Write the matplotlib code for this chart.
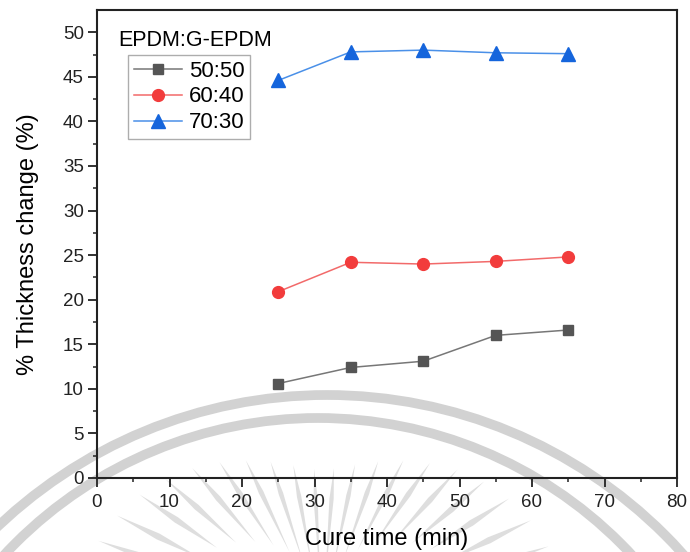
import numpy as np
import matplotlib
matplotlib.use("Agg")
import matplotlib.pyplot as plt
from matplotlib.patches import Arc, Polygon

plt.rcParams['font.family'] = ['Liberation Sans', 'DejaVu Sans']

# data
cure_time = [25, 35, 45, 55, 65]
ratio_50_50 = [10.6, 12.4, 13.1, 16.0, 16.6]
ratio_60_40 = [20.9, 24.2, 24.0, 24.3, 24.8]
ratio_70_30 = [44.6, 47.8, 48.0, 47.7, 47.6]
labels = ["50:50", "60:40", "70:30"]

fig = plt.figure(figsize=(6.9, 5.52), dpi=100)

# faint watermark layer behind the plot (pixel coordinates)
wm = fig.add_axes([0, 0, 1, 1], zorder=0)
wm.set_xlim(0, 690)
wm.set_ylim(552, 0)
wm.axis('off')
wm_col = '#d2d2d2'
wm.add_patch(Arc((327, 873), 2 * 478, 2 * 478, theta1=180, theta2=360,
                 color=wm_col, lw=7))
wm.add_patch(Arc((318, 846), 2 * 428, 2 * 428, theta1=180, theta2=360,
                 color=wm_col, lw=7))
# sunburst rays
cx, cy = 322, 620
for ang in np.arange(192, 350, 7.5):
    t = np.deg2rad(ang)
    side = abs(np.cos(t))
    r_out = 150 + 95 * side ** 1.5
    r_in = r_out - 90 - 20 * (1 - side)
    w = np.deg2rad(1.0)
    pts = [(cx + r_in * np.cos(t), cy + r_in * np.sin(t)),
           (cx + r_out * 0.8 * np.cos(t - w), cy + r_out * 0.8 * np.sin(t - w)),
           (cx + r_out * np.cos(t), cy + r_out * np.sin(t)),
           (cx + r_out * 0.8 * np.cos(t + w), cy + r_out * 0.8 * np.sin(t + w))]
    wm.add_patch(Polygon(pts, closed=True, color='#dedede', lw=0))

ax = fig.add_axes([97 / 690, 1 - 478 / 552, 580 / 690, 468 / 552], zorder=1)
ax.patch.set_alpha(0)

ax.plot(cure_time, ratio_50_50, color='#777777', lw=1.1, marker='s', ms=7.5,
        mfc='#555555', mec='#555555', label=labels[0])
ax.plot(cure_time, ratio_60_40, color='#f26a6a', lw=1.1, marker='o', ms=8.5,
        mfc='#f23c3c', mec='#f23c3c', label=labels[1])
ax.plot(cure_time, ratio_70_30, color='#4a90e8', lw=1.1, marker='^', ms=9.5,
        mfc='#1565dc', mec='#1565dc', label=labels[2])

ax.set_xlim(0, 80)
ax.set_ylim(0, 52.5)
ax.set_xticks(np.arange(0, 81, 10))
ax.set_xticks(np.arange(0, 81, 5), minor=True)
ax.set_yticks(np.arange(0, 51, 5))
ax.set_yticks(np.arange(0, 52, 2.5), minor=True)
ax.tick_params(which='major', direction='out', length=6.5, width=1.3,
               labelsize=13.5, colors='#222222', pad=3)
ax.tick_params(axis='x', which='major', pad=5)
ax.tick_params(which='minor', direction='out', length=3.2, width=1.1, colors='#222222')
for s in ax.spines.values():
    s.set_linewidth(1.5)
    s.set_color('#222222')

ax.set_xlabel("Cure time (min)", fontsize=17, labelpad=12)
ax.set_ylabel("% Thickness change (%)", fontsize=17, labelpad=17)

fig.text(195 / 690, 1 - 40 / 552, "EPDM:G-EPDM", fontsize=15.5, ha='center', va='center')
leg = ax.legend(loc='upper left', bbox_to_anchor=(128 / 690, 1 - 55 / 552),
                bbox_transform=fig.transFigure, fontsize=16, frameon=True,
                fancybox=False, edgecolor='#999999', borderpad=0.25,
                labelspacing=0.22, handlelength=2.2, handletextpad=0.3,
                borderaxespad=0)
leg.get_frame().set_linewidth(1.0)

fig.savefig("out.png", dpi=100)
